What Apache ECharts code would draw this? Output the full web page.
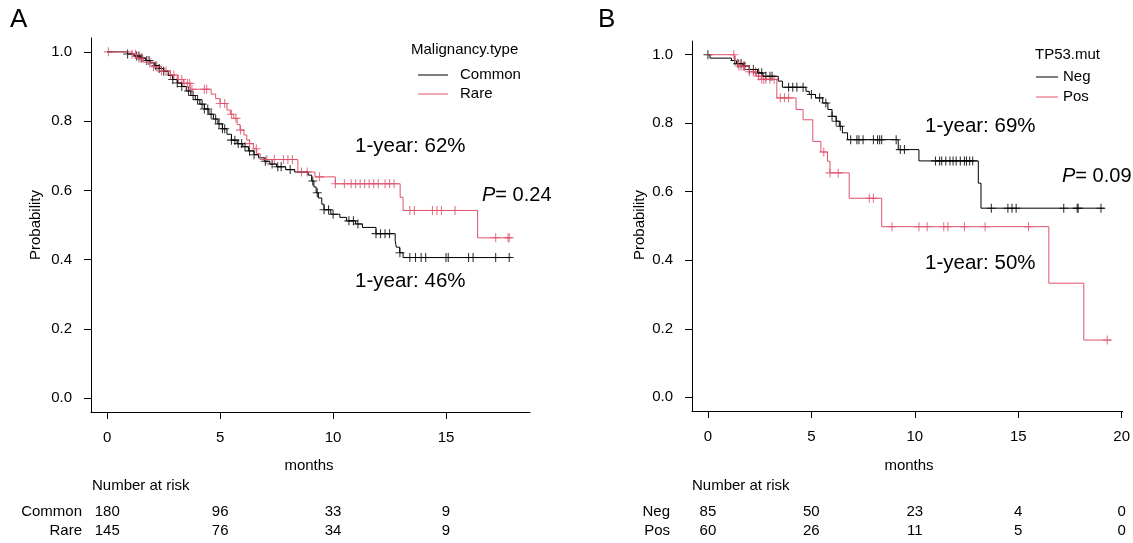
<!DOCTYPE html>
<html>
<head>
<meta charset="utf-8">
<script src="https://cdn.jsdelivr.net/npm/echarts@6/dist/echarts.min.js"></script>
<style>
html,body{margin:0;padding:0;background:#fff}
#km{width:1133px;height:543px}
</style>
</head>
<body>
<div id="km"></div>
<script>
// ---- panel A: Malignancy.type ----
var stepsCommon = [[0,1],[0.9,0.994],[1.2,0.988],[1.45,0.982],[1.7,0.975],[1.9,0.968],[2.1,0.96],[2.3,0.952],[2.5,0.944],[2.7,0.932],[2.9,0.92],[3.1,0.91],[3.3,0.9],[3.5,0.887],[3.7,0.874],[3.9,0.862],[4.1,0.849],[4.3,0.835],[4.5,0.82],[4.7,0.806],[4.9,0.792],[5.1,0.778],[5.3,0.762],[5.5,0.745],[5.75,0.735],[6.0,0.726],[6.25,0.714],[6.5,0.703],[6.7,0.694],[6.95,0.684],[7.2,0.676],[7.5,0.668],[7.9,0.66],[8.3,0.653],[8.9,0.644],[9.05,0.627],[9.15,0.61],[9.25,0.593],[9.35,0.578],[9.5,0.56],[9.6,0.544],[9.9,0.531],[10.3,0.522],[10.6,0.512],[11.0,0.503],[11.3,0.493],[11.9,0.475],[12.75,0.455],[12.8,0.436],[12.95,0.42],[13.1,0.406],[17.9,0.406]];
var censCommon = [0.9,1.3,1.4,1.5,1.75,1.85,2.15,2.3,2.5,2.9,3.1,3.3,3.6,3.8,4.0,4.2,4.3,4.45,4.6,4.8,4.95,5.1,5.2,5.5,5.65,5.8,5.95,6.1,6.3,6.5,7.0,7.3,7.55,7.7,8.1,9.1,9.3,9.6,9.8,10.0,10.7,10.9,11.1,11.9,12.1,12.3,12.5,12.96,13.4,13.65,13.9,14.1,15.0,15.1,16.0,16.2,17.2,17.8];
var stepsRare = [[0,1],[1.1,0.993],[1.3,0.982],[1.6,0.97],[2.05,0.957],[2.4,0.945],[2.79,0.933],[3.1,0.92],[3.38,0.909],[3.67,0.892],[4.6,0.878],[4.8,0.865],[5.0,0.851],[5.3,0.832],[5.45,0.82],[5.6,0.808],[5.75,0.79],[5.88,0.774],[6.05,0.76],[6.18,0.745],[6.3,0.735],[6.47,0.72],[6.62,0.706],[6.77,0.689],[8.44,0.653],[9.2,0.639],[10.1,0.619],[12.97,0.58],[13.1,0.542],[16.4,0.463],[17.9,0.463]];
var censRare = [0.05,1.1,1.25,1.4,1.55,1.9,2.05,2.2,2.4,2.6,2.8,2.95,3.15,3.3,3.4,3.55,3.65,3.75,4.3,4.4,5.0,5.2,5.5,5.7,5.9,6.3,6.6,7.07,7.4,7.8,8.0,8.2,8.6,8.85,9.4,10.1,10.5,10.8,11.0,11.2,11.4,11.6,11.8,12.0,12.3,12.5,12.7,13.4,13.6,14.4,14.6,14.8,15.4,17.2,17.75,17.8];
var riskTimesA = [0,5,10,15];
var riskCommon = [180,96,33,9];
var riskRare = [145,76,34,9];

// ---- panel B: TP53.mut ----
var stepsNeg = [[0,1],[0.1,0.99],[1.14,0.983],[1.38,0.974],[1.7,0.967],[2.0,0.957],[2.4,0.947],[2.66,0.937],[3.4,0.923],[3.6,0.905],[4.74,0.893],[4.9,0.884],[5.2,0.874],[5.55,0.859],[5.8,0.84],[6.0,0.82],[6.2,0.806],[6.35,0.791],[6.5,0.772],[6.75,0.752],[9.2,0.723],[10.2,0.69],[13.07,0.625],[13.2,0.552],[19.17,0.552]];
var censNeg = [0,1.3,1.45,1.6,1.75,2.0,2.2,2.45,2.6,2.8,3.0,3.1,3.9,4.1,4.3,4.6,5.0,5.4,5.7,6.0,6.2,6.4,6.9,7.2,7.3,7.5,8.0,8.2,8.3,8.4,9.1,9.3,9.5,11.0,11.2,11.3,11.5,11.7,11.85,12.0,12.2,12.4,12.5,12.65,12.8,13.7,14.5,14.7,14.9,17.2,17.85,17.9,19.0];
var stepsPos = [[0,1],[1.3,0.983],[1.46,0.967],[2.0,0.95],[2.34,0.937],[2.58,0.928],[3.33,0.874],[4.26,0.84],[4.6,0.81],[5.07,0.747],[5.46,0.716],[5.78,0.689],[5.9,0.655],[6.83,0.581],[8.4,0.498],[16.48,0.333],[18.17,0.167],[19.5,0.167]];
var censPos = [1.25,1.5,1.6,1.7,1.8,2.0,2.2,2.3,2.45,2.6,2.7,2.8,3.0,3.2,3.5,3.7,3.9,5.6,5.9,6.3,7.8,8.0,8.9,10.2,10.6,11.4,11.6,12.4,13.4,15.5,19.3];
var riskTimesB = [0,5,10,15,20];
var riskNeg = [85,50,23,4,0];
var riskPos = [60,26,11,5,0];

var probTicks = [0,0.2,0.4,0.6,0.8,1];
var RED = '#DF536B';
var FONT = '"Liberation Sans", Arial, Helvetica, sans-serif';
var PLUS = 'path://M4.4,0H5.6V10H4.4Z M0,4.4H10V5.6H0Z';

function survAt(steps, t){
	var s = 1;
	for (var i = 0; i < steps.length; i++) {
		if (steps[i][0] <= t) s = steps[i][1];
	}
	return s;
}
function censorPts(steps, times){
	return times.map(function(t){ return [t, survAt(steps, t)]; });
}

var chart = echarts.init(document.getElementById('km'));

function xAxisOf(grid, min, max, ticks){
	return {
		gridIndex: grid, type: 'value', min: min, max: max,
		splitLine: {show: false},
		axisLine: {onZero: false, lineStyle: {color: '#000', width: 1}},
		axisTick: {customValues: ticks, length: 7, lineStyle: {color: '#000'}},
		axisLabel: {customValues: ticks, fontSize: 15, fontFamily: FONT, color: '#000', margin: 18}
	};
}
function yAxisOf(grid){
	return {
		gridIndex: grid, type: 'value', min: -0.04, max: 1.04,
		splitLine: {show: false},
		axisLine: {onZero: false, lineStyle: {color: '#000', width: 1}},
		axisTick: {customValues: probTicks, length: 7, lineStyle: {color: '#000'}},
		axisLabel: {customValues: probTicks, fontSize: 15, fontFamily: FONT, color: '#000', margin: 19,
			formatter: function(v){ return v.toFixed(1); }}
	};
}
function stepLine(i, steps, color){
	return {type: 'line', xAxisIndex: i, yAxisIndex: i, step: 'end', data: steps,
		showSymbol: false, lineStyle: {color: color, width: 1}, itemStyle: {color: color}};
}
function censors(i, steps, times, color){
	return {type: 'scatter', xAxisIndex: i, yAxisIndex: i, data: censorPts(steps, times),
		symbol: PLUS, symbolSize: 9, itemStyle: {color: color}};
}

chart.setOption({
	animation: false,
	backgroundColor: '#fff',
	grid: [
		{left: 91, top: 38, width: 439, height: 374},
		{left: 692, top: 41, width: 433, height: 370}
	],
	xAxis: [xAxisOf(0, -0.72, 18.72, riskTimesA), xAxisOf(1, -0.77, 20.05, riskTimesB)],
	yAxis: [yAxisOf(0), yAxisOf(1)],
	series: [
		stepLine(0, stepsCommon, '#000'),
		stepLine(0, stepsRare, RED),
		censors(0, stepsCommon, censCommon, '#000'),
		censors(0, stepsRare, censRare, RED),
		stepLine(1, stepsNeg, '#000'),
		stepLine(1, stepsPos, RED),
		censors(1, stepsNeg, censNeg, '#000'),
		censors(1, stepsPos, censPos, RED)
	]
});

// 文本标注
function txt(x, y, s, size, align){
	return {type: 'text', x: x, y: y, silent: true,
		style: {text: s, fontSize: size, fontFamily: FONT, fill: '#000', align: align || 'left', verticalAlign: 'middle'}};
}
function pval(x, y, s){
	return {type: 'text', x: x, y: y, silent: true,
		style: {text: '{i|P}= ' + s, fontSize: 20, fontFamily: FONT, fill: '#000', align: 'left', verticalAlign: 'middle',
			rich: {i: {fontStyle: 'italic', fontSize: 20, fontFamily: FONT, fill: '#000'}}}};
}
function seg(x1, x2, y, color){
	return {type: 'line', silent: true, shape: {x1: x1, y1: y, x2: x2, y2: y}, style: {stroke: color, lineWidth: 1}};
}

var g = [];
g.push(txt(10, 20, 'A', 26));
g.push(txt(598, 20, 'B', 26));
g.push(txt(411, 50, 'Malignancy.type', 15));
g.push(seg(418, 448, 75, '#000'));
g.push(seg(418, 448, 94, RED));
g.push(txt(460, 75, 'Common', 15));
g.push(txt(460, 94, 'Rare', 15));
g.push(txt(1035, 55, 'TP53.mut', 15));
g.push(seg(1036, 1058, 77, '#000'));
g.push(seg(1036, 1058, 97, RED));
g.push(txt(1063, 77, 'Neg', 15));
g.push(txt(1063, 97, 'Pos', 15));
g.push(txt(355, 146, '1-year: 62%', 20.5));
g.push(txt(355, 281, '1-year: 46%', 20.5));
g.push(pval(482, 195, '0.24'));
g.push(txt(925, 126, '1-year: 69%', 20.5));
g.push(txt(925, 263, '1-year: 50%', 20.5));
g.push(pval(1062, 176, '0.09'));
g.push(txt(309, 466, 'months', 15, 'center'));
g.push(txt(909, 466, 'months', 15, 'center'));
var pa = txt(36, 225, 'Probability', 15, 'center'); pa.rotation = Math.PI / 2; g.push(pa);
var pb = txt(640, 225, 'Probability', 15, 'center'); pb.rotation = Math.PI / 2; g.push(pb);
g.push(txt(92, 486, 'Number at risk', 15));
g.push(txt(692, 486, 'Number at risk', 15));
g.push(txt(82, 512, 'Common', 15, 'right'));
g.push(txt(82, 531, 'Rare', 15, 'right'));
g.push(txt(670, 512, 'Neg', 15, 'right'));
g.push(txt(670, 531, 'Pos', 15, 'right'));

riskTimesA.forEach(function(t, i){
	var px = chart.convertToPixel({xAxisIndex: 0}, t);
	g.push(txt(px, 512, String(riskCommon[i]), 15, 'center'));
	g.push(txt(px, 531, String(riskRare[i]), 15, 'center'));
});
riskTimesB.forEach(function(t, i){
	var px = chart.convertToPixel({xAxisIndex: 1}, t);
	g.push(txt(px, 512, String(riskNeg[i]), 15, 'center'));
	g.push(txt(px, 531, String(riskPos[i]), 15, 'center'));
});

chart.setOption({graphic: g});
window.onresize = chart.resize;
</script>
</body>
</html>
